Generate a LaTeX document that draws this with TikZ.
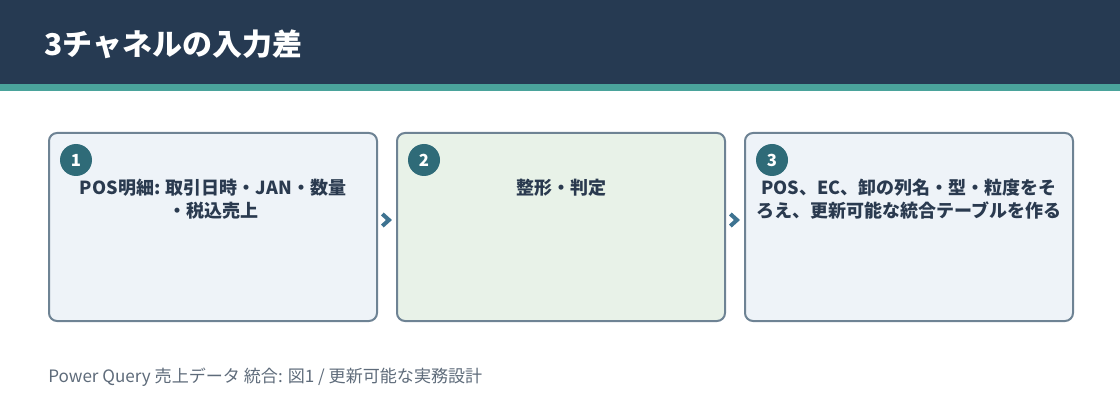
\documentclass[tikz,border=0pt]{standalone}
\usepackage{fontspec}
\usepackage{xcolor}
\usetikzlibrary{positioning,calc}
\setmainfont{Noto Sans CJK JP}
\definecolor{headbg}{HTML}{263A52}
\definecolor{stripe}{HTML}{4AA39B}
\definecolor{boxline}{HTML}{6E8394}
\definecolor{boxblue}{HTML}{EEF3F8}
\definecolor{boxgreen}{HTML}{E8F2E8}
\definecolor{badge}{HTML}{2F6B78}
\definecolor{ink}{HTML}{2A3A4F}
\definecolor{chevcol}{HTML}{3E7391}
\definecolor{foot}{HTML}{5E6B7A}
\begin{document}
\begin{tikzpicture}[
		x=0.75pt, y=-0.75pt,
		stage/.style={draw=boxline, line width=1.5pt, rounded corners=6pt, minimum width=246pt, minimum height=141pt, anchor=north west},
		num/.style={circle, fill=badge, minimum size=24pt, inner sep=0pt, text=white, font=\bfseries\fontsize{12.5}{12.5}\selectfont},
		stagetext/.style={anchor=north, align=center, inner sep=0pt, text=ink, font=\bfseries\fontsize{13.5}{17.25}\selectfont},
		chev/.style={draw=chevcol, line width=3pt, line cap=butt, line join=miter}
	]
	\useasboundingbox (0,0) rectangle (1120,420);
	% header band
	\fill[headbg] (0,0) rectangle (1120,84);
	\fill[stripe] (0,84) rectangle (1120,91);
	\node[anchor=west, text=white, inner sep=0pt, font=\bfseries\fontsize{22.5}{22.5}\selectfont] (title) at (44,44) {3チャネルの入力差};
	% stages
	\node[stage, fill=boxblue] (b1) at (48,132) {};
	\node[stage, fill=boxgreen] (b2) at (396,132) {};
	\node[stage, fill=boxblue] (b3) at (744,132) {};
	\foreach \i in {1,2,3} {
		\node[num] (n\i) at ([xshift=21pt,yshift=-21pt]b\i.north west) {\i};
	}
	\node[stagetext] (t1) at ([yshift=-35pt]b1.north) {POS明細: 取引日時・JAN・数量\\・税込売上};
	\node[stagetext] (t2) at ([yshift=-35pt]b2.north) {整形・判定};
	\node[stagetext] (t3) at ([yshift=-35pt]b3.north) {POS、EC、卸の列名・型・粒度をそ\\ろえ、更新可能な統合テーブルを作る};
	% chevrons between stages
	\coordinate (c12) at ($(b1.east)!0.5!(b2.west)+(0,-7)$);
	\coordinate (c23) at ($(b2.east)!0.5!(b3.west)+(0,-7)$);
	\foreach \c in {c12,c23} {
		\draw[chev] ([xshift=-3.5pt,yshift=4.5pt]\c) -- ([xshift=1.5pt]\c) -- ([xshift=-3.5pt,yshift=-4.5pt]\c);
	}
	\node[anchor=west, text=foot, inner sep=0pt, font=\fontsize{12.8}{12.8}\selectfont] (caption) at (48,377) {Power Query 売上データ 統合: 図1 / 更新可能な実務設計};
\end{tikzpicture}
\end{document}
